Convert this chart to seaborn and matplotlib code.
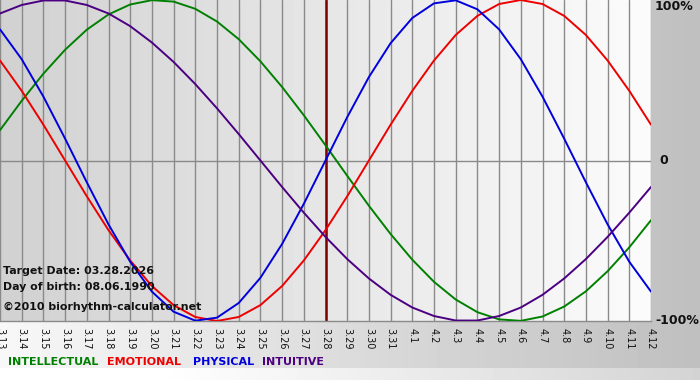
import matplotlib
matplotlib.use("Agg")
import matplotlib.pyplot as plt
import seaborn as sns
import numpy as np
import pandas as pd

# --- data (one value per day, 3.13 .. 4.12) ---
dates = ["3.13", "3.14", "3.15", "3.16", "3.17", "3.18", "3.19", "3.20", "3.21", "3.22",
         "3.23", "3.24", "3.25", "3.26", "3.27", "3.28", "3.29", "3.30", "3.31", "4.1",
         "4.2", "4.3", "4.4", "4.5", "4.6", "4.7", "4.8", "4.9", "4.10", "4.11", "4.12"]

physical = [0.817, 0.631, 0.398, 0.136, -0.136, -0.398, -0.631, -0.817, -0.942, -0.998,
            -0.979, -0.888, -0.731, -0.520, -0.270, 0.0, 0.270, 0.520, 0.731, 0.888,
            0.979, 0.998, 0.942, 0.817, 0.631, 0.398, 0.136, -0.136, -0.398, -0.631, -0.817]

emotional = [0.623, 0.434, 0.223, 0.0, -0.223, -0.434, -0.623, -0.782, -0.901, -0.975,
             -1.0, -0.975, -0.901, -0.782, -0.623, -0.434, -0.223, 0.0, 0.223, 0.434,
             0.623, 0.782, 0.901, 0.975, 1.0, 0.975, 0.901, 0.782, 0.623, 0.434, 0.223]

intellectual = [0.189, 0.372, 0.541, 0.690, 0.815, 0.910, 0.972, 0.999, 0.990, 0.945,
                0.866, 0.756, 0.618, 0.458, 0.282, 0.095, -0.095, -0.282, -0.458, -0.618,
                -0.756, -0.866, -0.945, -0.990, -0.999, -0.972, -0.910, -0.815, -0.690, -0.541, -0.372]

intuitive = [0.916, 0.969, 0.997, 0.997, 0.969, 0.916, 0.837, 0.735, 0.614, 0.476,
             0.325, 0.165, 0.0, -0.165, -0.325, -0.476, -0.614, -0.735, -0.837, -0.916,
             -0.969, -0.997, -0.997, -0.969, -0.916, -0.837, -0.735, -0.614, -0.476, -0.325, -0.165]

target_date = "3.28"
series_names = ["INTELLECTUAL", "EMOTIONAL", "PHYSICAL", "INTUITIVE"]
series_colors = ["#008000", "#ee0000", "#0000dd", "#4b0082"]
info_lines = ["Target Date: 03.28.2026", "Day of birth: 08.06.1990",
              "\u00a92010 biorhythm-calculator.net"]

sns.set_theme(style="white")
plt.rcParams['font.family'] = ['DejaVu Sans']

df = pd.DataFrame({"day": np.arange(len(dates)),
                   "INTELLECTUAL": intellectual, "EMOTIONAL": emotional,
                   "PHYSICAL": physical, "INTUITIVE": intuitive})
long_df = df.melt(id_vars="day", var_name="cycle", value_name="value")

fig = plt.figure(figsize=(7, 3.8), dpi=100)

# figure background: grey gradient, lighter at the left, light strip at the bottom
bg = fig.add_axes([0, 0, 1, 1], zorder=-10)
GX, GY = np.meshgrid(np.linspace(0, 1, 200), np.linspace(0, 1, 380))
shade = 0.97 - 0.22 * GX
shade = np.where(GY > 368 / 380, np.minimum(shade + 0.08, 1.0), shade)
bg.imshow(shade, cmap="gray", vmin=0, vmax=1, aspect="auto", extent=[0, 1, 0, 1])
bg.set_axis_off()

ax = fig.add_axes([0, 1 - 321 / 380, 651 / 700, 321 / 380])
ax.set_xlim(0, len(dates) - 1)
ax.set_ylim(-1, 1)

# plot area: gradient from grey (left) to near white (right)
pgrad = np.linspace(0.82, 0.985, 200).reshape(1, -1)
ax.imshow(pgrad, cmap="gray", vmin=0, vmax=1, aspect="auto",
          extent=[0, len(dates) - 1, -1, 1], zorder=0)

for d in range(len(dates)):
    ax.axvline(d, color="#8a8a8a", lw=1.0, zorder=1)
ax.axhline(0, color="#8a8a8a", lw=1.0, zorder=1)
ax.axvline(dates.index(target_date), color="#800000", lw=1.8, zorder=2)

sns.lineplot(data=long_df, x="day", y="value", hue="cycle",
             hue_order=series_names, palette=series_colors,
             lw=1.4, legend=False, ax=ax, zorder=3)

ax.set_xticks(range(len(dates)))
ax.set_xticklabels(dates, rotation=270, fontsize=7, color="#111111",
                   va="top", ha="center")
ax.tick_params(axis="x", length=4, width=0.8, color="#8a8a8a", pad=1)
ax.set_yticks([])
ax.set_xlabel("")
ax.set_ylabel("")
for side in ["top", "right", "left"]:
    ax.spines[side].set_visible(False)
ax.spines["bottom"].set_color("#8a8a8a")
ax.spines["bottom"].set_linewidth(1.0)

# right side percent labels
ax.text(1.006, 1, "100%", transform=ax.get_yaxis_transform(), fontsize=9,
        fontweight="bold", color="#111111", va="top", ha="left", clip_on=False)
ax.text(1.013, 0, "0", transform=ax.get_yaxis_transform(), fontsize=9,
        fontweight="bold", color="#111111", va="center", ha="left", clip_on=False)
ax.text(1.006, -1, "-100%", transform=ax.get_yaxis_transform(), fontsize=9,
        fontweight="bold", color="#111111", va="center", ha="left", clip_on=False)

# info block
for yp, line in zip([271, 287, 307], info_lines):
    fig.text(3 / 700, 1 - yp / 380, line, fontsize=7.9, fontweight="bold",
             color="#111111", va="center", ha="left")

# colour legend at the bottom
xpos = [8, 107, 193, 262]
for name, col, xp in zip(series_names, series_colors, xpos):
    fig.text(xp / 700, 1 - 362 / 380, name, color=col, fontsize=8,
             fontweight="bold", va="center", ha="left")

fig.savefig("out.png", dpi=100)
